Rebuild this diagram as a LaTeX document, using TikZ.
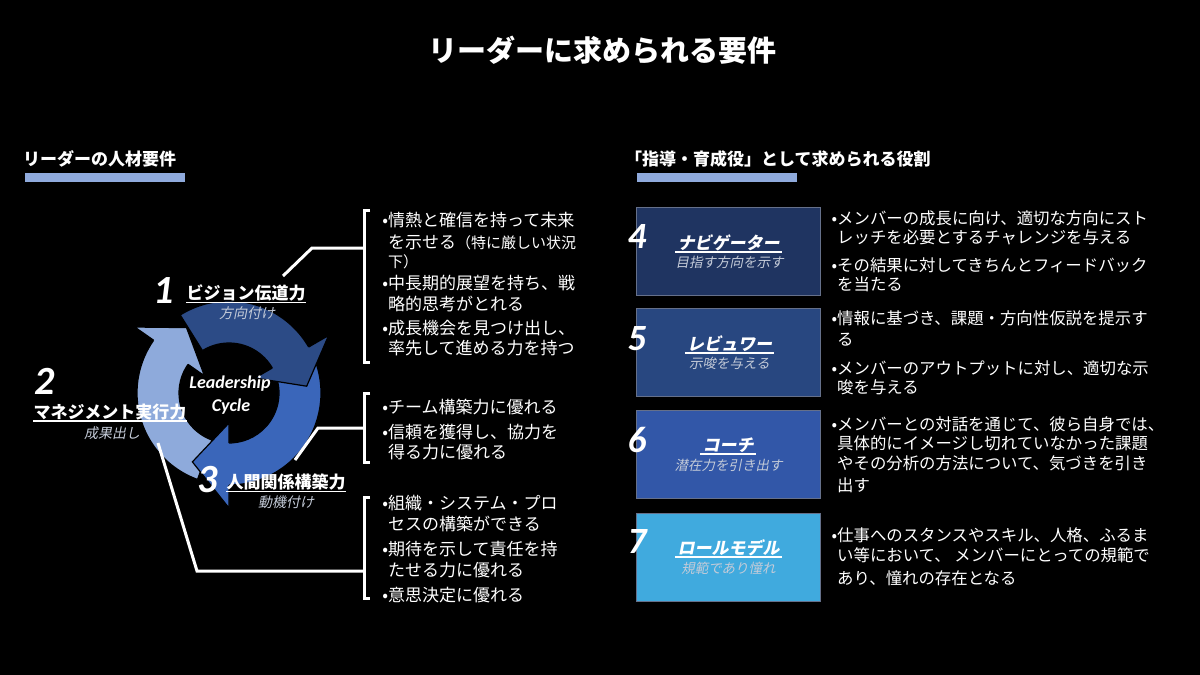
\documentclass[tikz,border=0pt]{standalone}
\usepackage{fontspec}
\newfontfamily\jp{Noto Sans CJK JP}
\newfontfamily\jpit[FakeSlant=0.2]{Noto Sans CJK JP}
\newfontfamily\calib{Carlito}
\definecolor{arrDark}{HTML}{2C4B86}
\definecolor{arrMid}{HTML}{3A66BA}
\definecolor{arrLight}{HTML}{8EAADB}
\definecolor{barBlue}{HTML}{8FAADC}
\definecolor{boxA}{HTML}{1F3461}
\definecolor{boxB}{HTML}{284780}
\definecolor{boxC}{HTML}{3257A8}
\definecolor{boxD}{HTML}{40AADE}
\definecolor{boxedge}{HTML}{65708A}
\definecolor{subgray}{HTML}{C4CBD8}
\tikzset{
 lt/.style={anchor=base west, inner sep=0, text=white, font=\jp\fontsize{17}{20}\selectfont},
 rt/.style={anchor=base west, inner sep=0, text=white, font=\jp\fontsize{16.4}{19}\selectfont},
 bignum/.style={anchor=base, inner sep=0, text=white, font=\calib\bfseries\itshape\fontsize{40}{42}\selectfont},
 bignumr/.style={anchor=base, inner sep=0, text=white, font=\calib\bfseries\itshape\fontsize{37}{39}\selectfont},
 ttl/.style={anchor=base, inner sep=0, text=white, font=\jp\bfseries\fontsize{17}{20}\selectfont},
 sublab/.style={anchor=base, inner sep=0, text=subgray, font=\jpit\fontsize{14}{16}\selectfont},
 boxt/.style={anchor=base, inner sep=0, text=white, font=\jpit\bfseries\fontsize{17}{19}\selectfont},
 boxs/.style={anchor=base, inner sep=0, text=subgray, font=\jpit\fontsize{13.5}{15}\selectfont},
 cyc/.style={anchor=base, inner sep=0, text=white, font=\calib\bfseries\itshape\fontsize{18}{20}\selectfont},
 ul/.style={white, line width=1.5},
 brk/.style={white, line width=3},
 roleBox/.style={draw=boxedge, line width=1, minimum width=184pt, minimum height=88pt, inner sep=0},
 head/.style={anchor=base west, inner sep=0, text=white, font=\jp\bfseries\fontsize{17}{20}\selectfont},
}
\newcommand\cycbody[3]{%
 \fill[#1] (#2:92) arc[start angle=#2, end angle=#3, radius=92] -- (#3:50) arc[start angle=#3, end angle=#2, radius=50] -- cycle;
 \draw[black, line width=1.2] (#2:92) arc[start angle=#2, end angle=#3, radius=92];
 \draw[black, line width=1.2] (#2:50) arc[start angle=#2, end angle=#3, radius=50];
 \draw[black, line width=1.2] (#2:92) -- (#2:50);}
\newcommand\cychead[4]{%
 \fill[#1] (#3:115) -- (#4:78) -- (#3:30) -- cycle;
 \draw[black, line width=1.2, line join=miter] (#3:92) -- (#3:115) -- (#4:78) -- (#3:30) -- (#3:50);}
\begin{document}
\begin{tikzpicture}[x=1pt, y=-1pt]
\useasboundingbox (0,0) rectangle (1200,675);
\fill[black] (0,0) rectangle (1200,675);

% title
\node[anchor=base, inner sep=0, text=white, font=\jp\bfseries\fontsize{29}{32}\selectfont] (title) at (602,61) {リーダーに求められる要件};

% section headings
\node[head] (hL) at (23,165) {リーダーの人材要件};
\node[head] (hR) at (625,165) {「指導・育成役」として求められる役割};
\fill[barBlue] (25,173) rectangle (185,182);
\fill[barBlue] (637,173) rectangle (797,182);

% cycle
\begin{scope}[shift={(229,393)}, yscale=-1]
 \cycbody{arrDark}{122}{27}
 \cycbody{arrMid}{18}{-93}
 \cycbody{arrLight}{-110}{-218}
 \cychead{arrDark}{122}{30}{5}
 \cychead{arrMid}{18}{-90}{-118}
 \cychead{arrLight}{-110}{-215}{-237}
\end{scope}
\node[cyc] (lead) at (230,388) {Leadership};
\node[cyc] (cyc) at (231,411) {Cycle};

% cycle labels
\node[bignum] (n1) at (164,303) {1};
\node[ttl] (t1) at (246,299.5) {ビジョン伝道力};
\draw[ul] ([yshift=-3pt]t1.base west) -- ([yshift=-3pt]t1.base east);
\node[sublab] (s1) at (247,318) {方向付け};

\node[bignum] (n2) at (45,394) {2};
\node[ttl] (t2) at (110,418) {マネジメント実行力};
\draw[ul] ([yshift=-3pt]t2.base west) -- ([yshift=-3pt]t2.base east);
\node[sublab] (s2) at (112,438) {成果出し};

\node[bignum] (n3) at (208,492) {3};
\node[ttl] (t3) at (286,488.5) {人間関係構築力};
\draw[ul] ([yshift=-3pt]t3.base west) -- ([yshift=-3pt]t3.base east);
\node[sublab] (s3) at (286,507) {動機付け};

% brackets and connectors
\coordinate (b1t) at (370,210); \coordinate (b1tc) at (364,210);
\coordinate (b1bc) at (364,362); \coordinate (b1b) at (370,362);
\coordinate (b1m) at (364,248); \coordinate (k1) at (312,248); \coordinate (e1) at (283,276);
\draw[brk] (b1t) -- (b1tc) -- (b1bc) -- (b1b);
\draw[brk] (b1m) -- (k1) -- (e1);

\coordinate (b2t) at (370,393); \coordinate (b2tc) at (364,393);
\coordinate (b2bc) at (364,462); \coordinate (b2b) at (370,462);
\coordinate (b2m) at (364,428); \coordinate (k2) at (318,428); \coordinate (e2) at (295,460);
\draw[brk] (b2t) -- (b2tc) -- (b2bc) -- (b2b);
\draw[brk] (b2m) -- (k2) -- (e2);

\coordinate (b3t) at (370,497); \coordinate (b3tc) at (364,497);
\coordinate (b3bc) at (364,598); \coordinate (b3b) at (370,598);
\coordinate (b3m) at (364,571); \coordinate (k3) at (197,571); \coordinate (e3) at (158,443);
\draw[brk] (b3t) -- (b3tc) -- (b3bc) -- (b3b);
\draw[brk] (b3m) -- (k3) -- (e3);

% left texts
\foreach \yy/\tx [count=\i] in {
 226.5/{\llap{•}情熱と確信を持って未来},
 248.5/{を示せる{\fontsize{15}{18}\selectfont （特に厳しい状況}},
 267.5/{{\fontsize{15}{18}\selectfont 下）}},
 289.5/{\llap{•}中長期的展望を持ち、戦},
 310.5/{略的思考がとれる},
 334.5/{\llap{•}成長機会を見つけ出し、},
 354.5/{率先して進める力を持つ},
 413.5/{\llap{•}チーム構築力に優れる},
 438.5/{\llap{•}信頼を獲得し、協力を},
 458.5/{得る力に優れる},
 509.5/{\llap{•}組織・システム・プロ},
 530.5/{セスの構築ができる},
 555.5/{\llap{•}期待を示して責任を持},
 576.5/{たせる力に優れる},
 601.5/{\llap{•}意思決定に優れる}}
 \node[lt] (L\i) at (388,\yy) {\tx};

% role boxes
\node[roleBox, fill=boxA] (B4) at (728,251.5) {};
\node[roleBox, fill=boxB] (B5) at (728,352.5) {};
\node[roleBox, fill=boxC] (B6) at (728,454) {};
\node[roleBox, fill=boxD] (B7) at (728,557) {};

\node[bignumr] (n4) at (637,248) {4};
\node[bignumr] (n5) at (637,350) {5};
\node[bignumr] (n6) at (637,452) {6};
\node[bignumr] (n7) at (637,553) {7};

\node[boxt] (T4) at (728.5,249) {ナビゲーター};
\draw[ul] ([shift={(-2pt,-3pt)}]T4.base west) -- ([shift={(2pt,-3pt)}]T4.base east);
\node[boxs] (S4) at (729.5,267) {目指す方向を示す};
\node[boxt] (T5) at (729.5,350) {レビュワー};
\draw[ul] ([shift={(-2pt,-3pt)}]T5.base west) -- ([shift={(2pt,-3pt)}]T5.base east);
\node[boxs] (S5) at (729.5,368) {示唆を与える};
\node[boxt] (T6) at (728,451) {コーチ};
\draw[ul] ([shift={(-2pt,-3pt)}]T6.base west) -- ([shift={(2pt,-3pt)}]T6.base east);
\node[boxs] (S6) at (728.5,470) {潜在力を引き出す};
\node[boxt] (T7) at (728.5,554) {ロールモデル};
\draw[ul] ([shift={(-2pt,-3pt)}]T7.base west) -- ([shift={(2pt,-3pt)}]T7.base east);
\node[boxs] (S7) at (728.5,573) {規範であり憧れ};

% right texts
\foreach \yy/\tx [count=\i] in {
 224.3/{\llap{•}メンバーの成長に向け、適切な方向にスト},
 243.3/{レッチを必要とするチャレンジを与える},
 271.3/{\llap{•}その結果に対してきちんとフィードバック},
 290.3/{を当たる},
 324.3/{\llap{•}情報に基づき、課題・方向性仮説を提示す},
 345.3/{る},
 374.3/{\llap{•}メンバーのアウトプットに対し、適切な示},
 393.3/{唆を与える},
 430.3/{\llap{•}メンバーとの対話を通じて、彼ら自身では、},
 449.3/{具体的にイメージし切れていなかった課題},
 469.3/{やその分析の方法について、気づきを引き},
 491.3/{出す},
 541.3/{\llap{•}仕事へのスタンスやスキル、人格、ふるま},
 561.3/{い等において、 メンバーにとっての規範で},
 584.3/{あり、憧れの存在となる}}
 \node[rt] (R\i) at (837,\yy) {\tx};
\end{tikzpicture}
\end{document}
